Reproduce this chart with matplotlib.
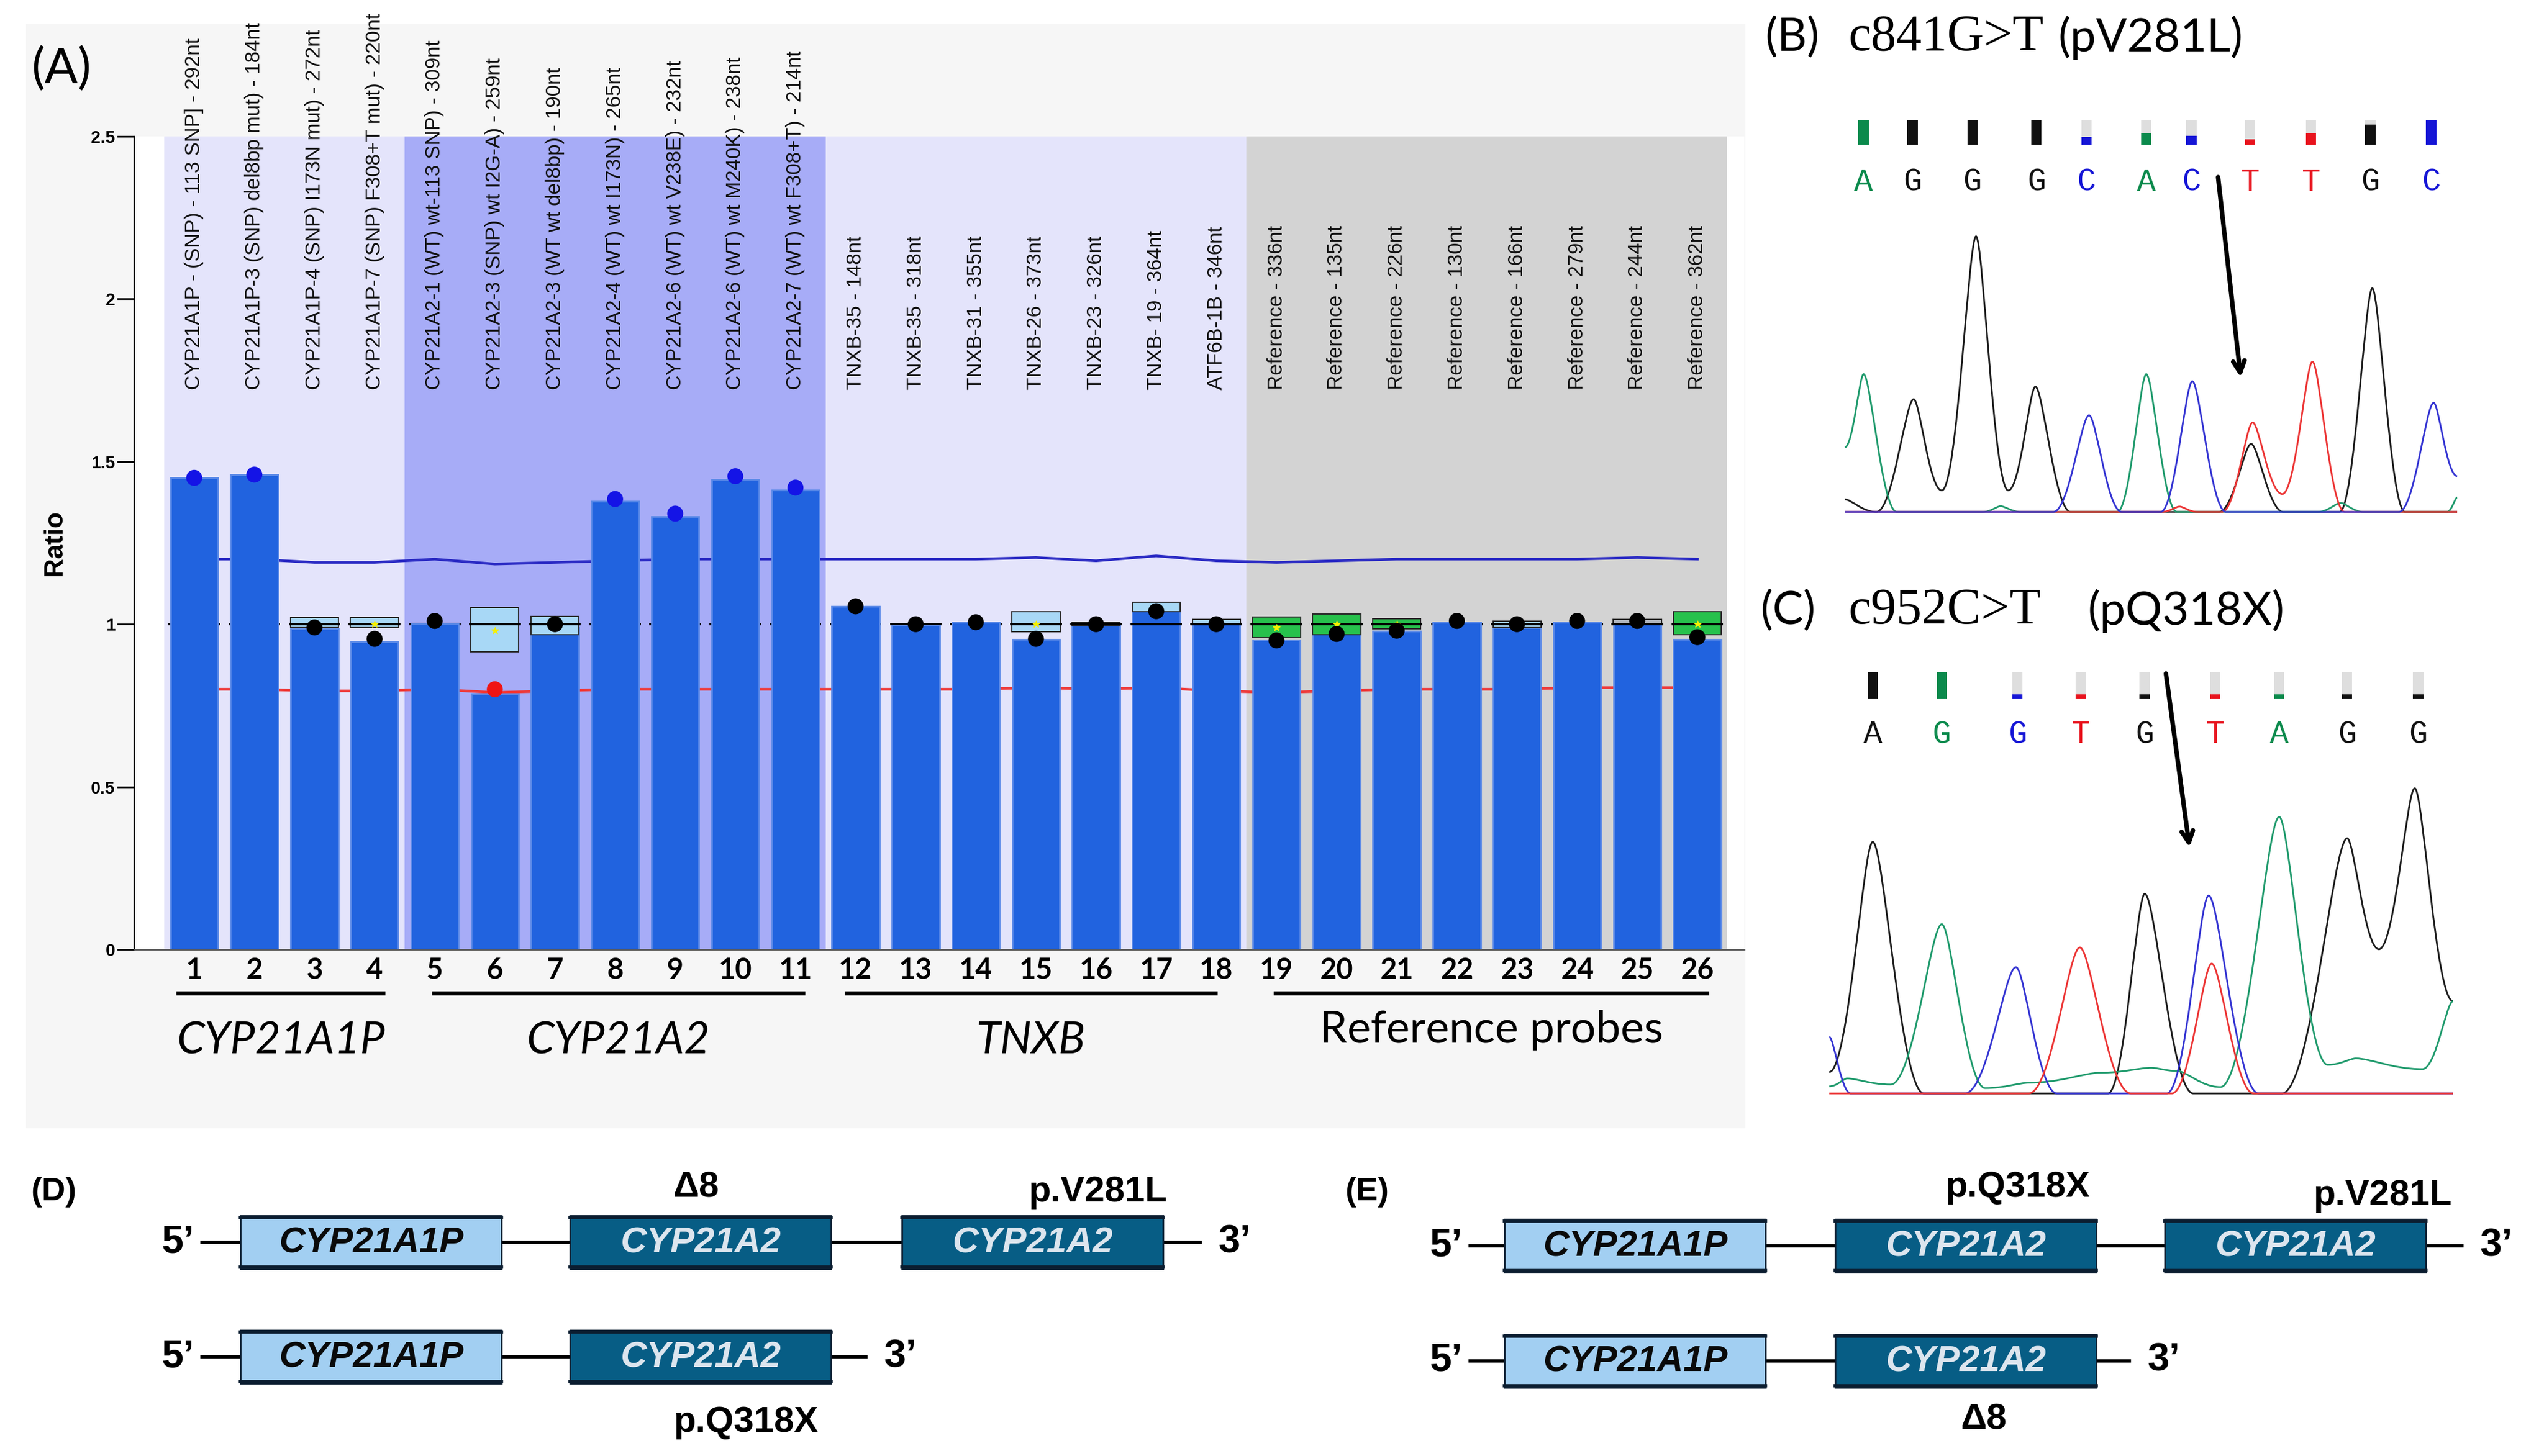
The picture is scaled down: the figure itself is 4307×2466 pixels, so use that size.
import matplotlib
matplotlib.use('Agg')
import matplotlib.pyplot as plt
import numpy as np
from matplotlib.patches import Rectangle, PathPatch
from matplotlib.path import Path

W, H = 4307, 2466

# ---------------- panel A data ----------------
probe_labels = [
    'CYP21A1P - (SNP) - 113 SNP] - 292nt', 'CYP21A1P-3 (SNP) del8bp mut) - 184nt',
    'CYP21A1P-4 (SNP) I173N mut) - 272nt', 'CYP21A1P-7 (SNP) F308+T mut) - 220nt',
    'CYP21A2-1 (WT) wt-113 SNP) - 309nt', 'CYP21A2-3 (SNP) wt I2G-A) - 259nt',
    'CYP21A2-3 (WT wt del8bp) - 190nt', 'CYP21A2-4 (WT) wt I173N) - 265nt',
    'CYP21A2-6 (WT) wt V238E) - 232nt', 'CYP21A2-6 (WT) wt M240K) - 238nt',
    'CYP21A2-7 (WT) wt F308+T) - 214nt',
    'TNXB-35 - 148nt', 'TNXB-35 - 318nt', 'TNXB-31 - 355nt', 'TNXB-26 - 373nt',
    'TNXB-23 - 326nt', 'TNXB- 19 - 364nt', 'ATF6B-1B - 346nt',
    'Reference - 336nt', 'Reference - 135nt', 'Reference - 226nt', 'Reference - 130nt',
    'Reference - 166nt', 'Reference - 279nt', 'Reference - 244nt', 'Reference - 362nt']
probe_nums = list(range(1, 27))
ratios = [1.45, 1.46, 0.985, 0.945, 1.003, 0.787, 0.99, 1.378, 1.33, 1.446, 1.413,
          1.055, 0.996, 1.006, 0.954, 0.996, 1.042, 1.01,
          0.951, 0.97, 0.979, 1.006, 0.99, 1.006, 1.01, 0.954]
dot_vals = [1.45, 1.46, 0.99, 0.955, 1.01, 0.80, 1.0, 1.385, 1.34, 1.455, 1.42,
            1.055, 1.0, 1.006, 0.955, 1.0, 1.04, 1.0,
            0.95, 0.97, 0.98, 1.01, 1.0, 1.01, 1.01, 0.96]
dot_kind = ['gain', 'gain', 'ok', 'ok', 'ok', 'loss', 'ok', 'gain', 'gain', 'gain', 'gain'] + ['ok'] * 15
upper_lim = [1.2, 1.2, 1.19, 1.19, 1.2, 1.185, 1.19, 1.195, 1.2, 1.2, 1.2, 1.2, 1.2, 1.2,
             1.205, 1.195, 1.21, 1.195, 1.19, 1.195, 1.2, 1.2, 1.2, 1.2, 1.205, 1.2]
lower_lim = [0.8, 0.8, 0.795, 0.795, 0.8, 0.79, 0.795, 0.8, 0.8, 0.8, 0.8, 0.8, 0.8, 0.8,
             0.805, 0.8, 0.805, 0.795, 0.79, 0.795, 0.8, 0.8, 0.8, 0.805, 0.805, 0.805]
nan = np.nan
box_lo = [nan, nan, 0.99, 0.99, nan, 0.915, 0.968, nan, nan, nan, nan,
          nan, nan, nan, 0.976, 0.995, 1.038, 0.998,
          0.958, 0.968, 0.985, nan, 0.99, nan, 1.0, 0.968]
box_hi = [nan, nan, 1.02, 1.02, nan, 1.052, 1.024, nan, nan, nan, nan,
          nan, nan, nan, 1.038, 1.005, 1.068, 1.015,
          1.023, 1.031, 1.017, nan, 1.01, nan, 1.015, 1.038]
box_kind = ['', '', 'sd', 'sd', '', 'sd', 'sd', '', '', '', '',
            '', '', '', 'sd', 'sd', 'sd', 'sd',
            'ref', 'ref', 'ref', '', 'sd', '', 'grey', 'ref']
star_at = [nan, nan, nan, 1.0, nan, 0.98, nan, nan, nan, nan, nan,
           nan, nan, nan, 1.0, nan, nan, nan,
           0.99, 1.0, 1.0, nan, nan, nan, nan, 1.0]

groups = ['CYP21A1P', 'CYP21A2', 'TNXB', 'Reference probes']
group_span = [(0.5, 4.5), (4.5, 11.5), (11.5, 18.5), (18.5, 26.5)]
group_bg = ['#e4e4fb', '#a7acf7', '#e4e4fb', '#d3d3d3']
line_span = [(0.70, 4.18), (4.95, 11.16), (11.82, 18.02), (18.95, 26.19)]

# ---------------- panels B / C data (scan units, relative intensity) ----------------
B_black_x = [200, 262, 335, 390, 457, 520, 573, 642, 932, 995, 1058, 1168, 1232, 1296, 1398]
B_black_y = [35, 0, 315, 60, 770, 60, 350, 0, 0, 190, 0, 0, 625, 0, 0]
B_green_x = [200, 237, 302, 470, 505, 545, 733, 790, 850, 1125, 1170, 1215, 1378, 1398]
B_green_y = [180, 385, 0, 0, 16, 0, 0, 385, 0, 0, 25, 0, 0, 40]
B_blue_x = [200, 608, 678, 742, 818, 880, 946, 1284, 1352, 1398]
B_blue_y = [0, 0, 270, 0, 0, 365, 0, 0, 305, 100]
B_red_x = [200, 820, 855, 890, 938, 998, 1056, 1115, 1178, 1398]
B_red_y = [0, 0, 15, 0, 0, 250, 50, 420, 0, 0]
B_call_x = [237, 333, 450, 575, 673, 790, 878, 993, 1112, 1228, 1347]
B_call_base = list('AGGGCACTTGC')
B_call_col = ['A', 'G', 'G', 'G', 'C', 'A', 'C', 'T', 'T', 'G', 'C']
B_call_qual = [1, 1, 1, 1, 0.3, 0.45, 0.35, 0.22, 0.45, 0.8, 1]

C_black_x = [170, 255, 355, 715, 787, 882, 1055, 1183, 1245, 1315, 1390]
C_black_y = [60, 703, 0, 0, 558, 0, 0, 713, 403, 853, 258]
C_green_x = [170, 205, 290, 390, 475, 560, 700, 800, 850, 935, 1050, 1145, 1200, 1330, 1390]
C_green_y = [20, 42, 25, 473, 15, 30, 58, 72, 63, 18, 773, 80, 98, 68, 258]
C_blue_x = [170, 212, 435, 535, 615, 830, 912, 1010, 1390]
C_blue_y = [158, 0, 0, 353, 0, 0, 553, 0, 0]
C_red_x = [170, 560, 660, 760, 840, 918, 1000, 1390]
C_red_y = [0, 0, 408, 0, 0, 363, 0, 0]
C_call_x = [255, 390, 538, 662, 787, 925, 1050, 1183, 1322]
C_call_base = list('AGGTGTAGG')
C_call_col = ['G', 'A', 'C', 'T', 'G', 'T', 'A', 'G', 'G']
C_call_qual = [1, 1, 0.15, 0.15, 0.15, 0.15, 0.15, 0.15, 0.15]

base_color = {'A': '#0b8a4c', 'G': '#111111', 'C': '#1616d6', 'T': '#e8141e'}
trace_color = {'A': '#1f9a6c', 'G': '#1c1c1c', 'C': '#3434d2', 'T': '#ec3434'}

# ---------------- panels D / E ----------------
D_rows = [['CYP21A1P', 'CYP21A2', 'CYP21A2'], ['CYP21A1P', 'CYP21A2']]
E_rows = [['CYP21A1P', 'CYP21A2', 'CYP21A2'], ['CYP21A1P', 'CYP21A2']]
D_marks = [('Δ8', 1179, 2012), ('p.V281L', 1859, 2019), ('p.Q318X', 1263, 2409)]
E_marks = [('p.Q318X', 3416, 2012), ('p.V281L', 4034, 2025), ('Δ8', 3358, 2405)]

SANS = ['Liberation Sans', 'DejaVu Sans']
CAL = ['Lato', 'DejaVu Sans']

fig = plt.figure(figsize=(W / 100, H / 100), dpi=100)
fig.patch.set_facecolor('white')

# canvas in pixel units
ax0 = fig.add_axes([0, 0, 1, 1], zorder=0)
ax0.set_xlim(0, W)
ax0.set_ylim(H, 0)
ax0.axis('off')
ax0.add_patch(Rectangle((44, 40), 2911, 1871, fc='#f6f6f6', ec='none'))

# ---------------- panel A ----------------
axA = fig.add_axes([227 / W, 1 - 1608 / H, 2726 / W, 1377 / H], zorder=2)
axA.set_facecolor('white')
axA.set_xlim(0, 26.78)
axA.set_ylim(0, 2.5)
for (a, b), c in zip(group_span, group_bg):
    axA.axvspan(a, b, color=c, lw=0, zorder=0)

axA.plot(probe_nums, upper_lim, color='#2b2bc4', lw=3.2, zorder=1)
axA.plot(probe_nums, lower_lim, color='#ee3a3a', lw=3.2, zorder=1)
axA.hlines([1.0] * 26, np.array(probe_nums) - 0.43, np.array(probe_nums) + 0.43,
           color='black', lw=3, zorder=1.5)

axA.bar(probe_nums, ratios, width=0.79, color='#2163df', edgecolor='#5b8ae8',
        linewidth=2, zorder=3)

box_fc = {'sd': '#a8d8f6', 'ref': '#27c14c', 'grey': '#b0b6bf'}
for i, lo, hi, k, st in zip(probe_nums, box_lo, box_hi, box_kind, star_at):
    if k == '':
        continue
    axA.add_patch(Rectangle((i - 0.4, lo), 0.8, hi - lo, fc=box_fc[k], ec='#2a2a2a',
                            lw=1.5, zorder=4))
    axA.plot([i - 0.4, i + 0.4], [1.0, 1.0], color='black', lw=3, zorder=4.2)
    if not np.isnan(st):
        axA.plot(i, st, marker='*', color='#f5f000', ms=9, zorder=4.3)

dot_col = {'gain': '#1414e6', 'loss': '#f01414', 'ok': '#000000'}
axA.scatter(probe_nums, dot_vals, s=380, c=[dot_col[k] for k in dot_kind],
            zorder=5, linewidths=0)

axA.spines['top'].set_visible(False)
axA.spines['right'].set_visible(False)
axA.spines['left'].set_linewidth(2.2)
axA.spines['bottom'].set_color('#555555')
axA.spines['bottom'].set_linewidth(2)
axA.set_yticks([0, 0.5, 1, 1.5, 2, 2.5])
axA.set_yticklabels(['0', '0.5', '1', '1.5', '2', '2.5'], fontfamily=SANS,
                    fontweight='bold', fontsize=21)
axA.tick_params(axis='y', length=21, width=2, pad=2)
axA.set_xticks(probe_nums)
axA.set_xticklabels([str(n) for n in probe_nums], fontfamily=CAL, fontweight='bold',
                    fontsize=35)
axA.tick_params(axis='x', length=0, pad=9)
axA.text(-0.0495, 0.5, 'Ratio', transform=axA.transAxes, rotation=90, ha='center',
         va='center', fontfamily=SANS, fontweight='bold', fontsize=32)

for n, lab in zip(probe_nums, probe_labels):
    axA.text(n, 1.721, lab, rotation=90, ha='center', va='bottom', fontfamily=SANS,
             fontsize=25, color='#111111', clip_on=False, zorder=6)

for (a, b), g in zip(line_span, groups):
    axA.plot([a, b], [-0.134, -0.134], color='black', lw=5, clip_on=False,
             solid_capstyle='butt')
    ital = g != 'Reference probes'
    axA.text((a + b) / 2, -0.281 if ital else -0.247, g, ha='center', va='center',
             fontfamily=CAL, fontstyle='italic' if ital else 'normal', fontsize=54)

ax0.text(104, 118, '(A)', ha='center', va='center', fontfamily=CAL, fontsize=60)


# ---------------- panels B and C ----------------
def draw_trace(ax, xs, ys, color):
    verts = [(xs[0], ys[0])]
    codes = [Path.MOVETO]
    for j in range(len(xs) - 1):
        x0, y0, x1, y1 = xs[j], ys[j], xs[j + 1], ys[j + 1]
        dx = x1 - x0
        k0 = 0.22 if y0 > y1 else 0.45
        k1 = 0.22 if y1 > y0 else 0.45
        verts += [(x0 + k0 * dx, y0), (x1 - k1 * dx, y1), (x1, y1)]
        codes += [Path.CURVE4] * 3
    ax.add_patch(PathPatch(Path(verts, codes), fc='none', ec=color, lw=2.1,
                           clip_on=False))


def chromatogram(rect, xlim, ytop, traces, calls, call_y, letter_y, arrow):
    ax = fig.add_axes(rect, zorder=3)
    ax.set_xlim(*xlim)
    ax.set_ylim(0, ytop)
    ax.axis('off')
    for xs, ys, b in traces:
        draw_trace(ax, xs, ys, trace_color[b])
    cx, cb, cc, cq = calls
    y0, y1 = call_y
    for x, b, c, q in zip(cx, cb, cc, cq):
        ax.add_patch(Rectangle((x - 10, y0), 20, y1 - y0, fc='#dedede', ec='none',
                               clip_on=False))
        ax.add_patch(Rectangle((x - 10, y0), 20, (y1 - y0) * q, fc=base_color[c],
                               ec='none', clip_on=False))
        ax.text(x, letter_y, b, ha='center', va='center', color=base_color[c],
                fontfamily=['Liberation Mono', 'DejaVu Sans Mono'], fontsize=38,
                clip_on=False)
    ax.annotate('', xy=arrow[1], xytext=arrow[0],
                arrowprops=dict(arrowstyle='->,head_length=1.4,head_width=0.7',
                                lw=5.5, color='black'), annotation_clip=False)
    return ax


chromatogram([3123 / W, 1 - 867 / H, 1037 / W, 507 / H], (200, 1398), 836.5,
             [(B_black_x, B_black_y, 'G'), (B_green_x, B_green_y, 'A'),
              (B_red_x, B_red_y, 'T'), (B_blue_x, B_blue_y, 'C')],
             (B_call_x, B_call_base, B_call_col, B_call_qual), (1026, 1096), 921,
             ((930, 940), (975, 371)))
chromatogram([3097 / W, 1 - 1852 / H, 1056 / W, 522 / H], (170, 1390), 861.3,
             [(C_black_x, C_black_y, 'G'), (C_green_x, C_green_y, 'A'),
              (C_blue_x, C_blue_y, 'C'), (C_red_x, C_red_y, 'T')],
             (C_call_x, C_call_base, C_call_col, C_call_qual), (1104, 1178), 1003,
             ((828, 1178), (875, 683)))

SER = ['Liberation Serif', 'DejaVu Serif']
ax0.text(2989, 64, '(B)', ha='left', va='center', fontfamily=CAL, fontsize=56)
ax0.text(3130, 64, 'c841G>T', ha='left', va='center', fontfamily=SER, fontsize=62)
ax0.text(3485, 64, '(pV281L)', ha='left', va='center', fontfamily=CAL, fontsize=56)
ax0.text(2980, 1035, '(C)', ha='left', va='center', fontfamily=CAL, fontsize=56)
ax0.text(3130, 1035, 'c952C>T', ha='left', va='center', fontfamily=SER, fontsize=62)
ax0.text(3534, 1035, '(pQ318X)', ha='left', va='center', fontfamily=CAL, fontsize=56)


# ---------------- panels D and E ----------------
def gene_box(x0, yc, name):
    light = name.endswith('P')
    fc = '#a2cff2' if light else '#075d85'
    tc = '#0a0a0a' if light else '#dce5ee'
    w, h = 442, 90
    ax0.add_patch(Rectangle((x0, yc - h / 2), w, h, fc=fc, ec='#0b1d30', lw=2))
    ax0.plot([x0, x0 + w], [yc - h / 2 + 3, yc - h / 2 + 3], color='#0b1d30', lw=4)
    ax0.plot([x0, x0 + w], [yc + h / 2 - 3, yc + h / 2 - 3], color='#0b1d30', lw=4)
    ax0.text(x0 + w / 2, yc + 2, name, ha='center', va='center', color=tc,
             fontfamily=SANS, fontweight='bold', fontstyle='italic', fontsize=44)


def construct(rows, row_y, starts, five_x, tail):
    for genes, yc, t in zip(rows, row_y, tail):
        xs = starts[:len(genes)]
        end = xs[-1] + 442
        ax0.plot([five_x + 40, end + t], [yc, yc], color='black', lw=4, zorder=0)
        for x0, g in zip(xs, genes):
            gene_box(x0, yc, g)
        ax0.text(five_x, yc, '5\u2019', ha='center', va='center', fontfamily=SANS,
                 fontweight='bold', fontsize=48)
        ax0.text(end + t + 58, yc, '3\u2019', ha='center', va='center',
                 fontfamily=SANS, fontweight='bold', fontsize=48)


construct(D_rows, [2104, 2298], [407, 965, 1527], 302, [63, 59])
construct(E_rows, [2110, 2305], [2547, 3107, 3665], 2449, [61, 56])
for txt, x, y in D_marks + E_marks:
    ax0.text(x, y, txt, ha='center', va='center', fontfamily=SANS, fontweight='bold',
             fontsize=44)
ax0.text(91, 2019, '(D)', ha='center', va='center', fontfamily=SANS,
         fontweight='bold', fontsize=40)
ax0.text(2314, 2019, '(E)', ha='center', va='center', fontfamily=SANS,
         fontweight='bold', fontsize=40)

fig.savefig('out.png', dpi=100, facecolor='white')
